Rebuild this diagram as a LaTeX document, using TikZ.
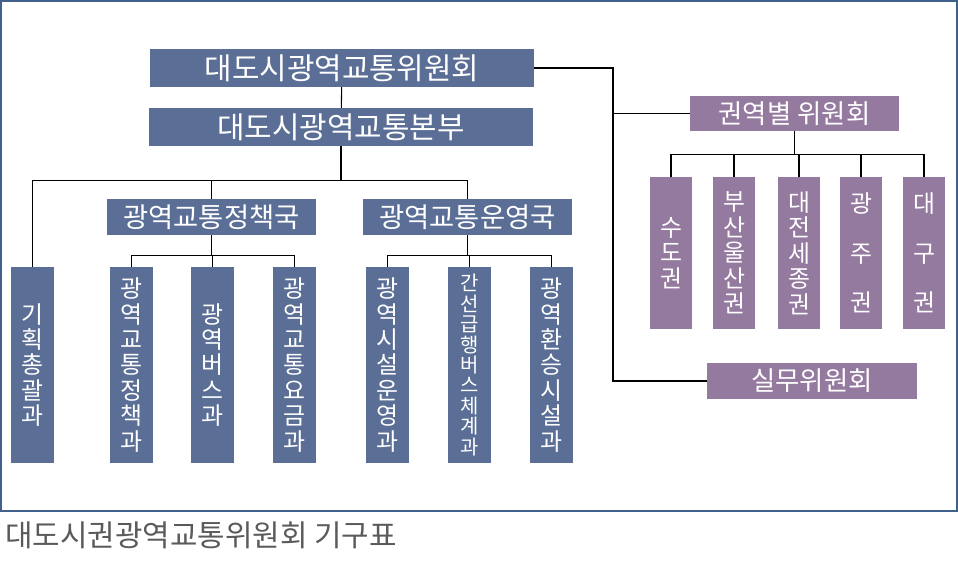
\documentclass[tikz,border=0pt]{standalone}
\usepackage{fontspec}
\setmainfont{Noto Sans CJK KR}
\usepackage{xcolor}
\definecolor{BoxBlue}  {HTML}{5B6F96}
\definecolor{BoxPurple}{HTML}{957AA0}
\definecolor{FrameBlue}{HTML}{41618C}
\definecolor{CapGray}  {HTML}{5A5A5A}
\tikzset{
  hbox/.style={rectangle,fill=#1,text=white,inner sep=0pt,
               minimum width=209bp,minimum height=36bp},
  vbox/.style={rectangle,fill=#1,text=white,inner sep=0pt,align=center,
               minimum width=43bp,font=\fontsize{24}{25.5}\selectfont},
  lnk/.style={line width=1.1bp,color=black},
}

\begin{document}
\begin{tikzpicture}[x=1bp,y=-1bp]

  \useasboundingbox (0,0) rectangle (958,561);
  \draw[FrameBlue,line width=1.6bp] (1,1) rectangle (957,511);

  \node[hbox=BoxBlue,minimum width=384bp,minimum height=38bp,
        font=\fontsize{30}{32}\selectfont] (Cmte) at (342,68) {대도시광역교통위원회};
  \node[hbox=BoxBlue,minimum width=384bp,minimum height=38bp,
        font=\fontsize{30}{32}\selectfont] (HQ) at (341,127) {대도시광역교통본부};

  \node[hbox=BoxBlue,font=\fontsize{27.5}{30}\selectfont] (Pol) at (211.5,217) {광역교통정책국};
  \node[hbox=BoxBlue,font=\fontsize{27.5}{30}\selectfont] (Ops) at (467.5,217) {광역교통운영국};

  \node[vbox=BoxBlue,minimum height=196bp] (Plan)  at (32.5,365)  {기\\획\\총\\괄\\과};
  \node[vbox=BoxBlue,minimum height=196bp] (PolA)  at (131.5,365) {광\\역\\교\\통\\정\\책\\과};
  \node[vbox=BoxBlue,minimum height=196bp] (Bus)   at (212.5,365) {광\\역\\버\\스\\과};
  \node[vbox=BoxBlue,minimum height=196bp] (Fare)  at (294.5,365) {광\\역\\교\\통\\요\\금\\과};
  \node[vbox=BoxBlue,minimum height=196bp] (Fac)   at (387.5,365) {광\\역\\시\\설\\운\\영\\과};
  \node[vbox=BoxBlue,minimum height=196bp,font=\fontsize{20}{20.5}\selectfont]
    (BRT) at (469.5,365) {간\\선\\급\\행\\버\\스\\체\\계\\과};
  \node[vbox=BoxBlue,minimum height=196bp] (Trans) at (551.5,365) {광\\역\\환\\승\\시\\설\\과};

  \node[hbox=BoxPurple,minimum height=35bp,font=\fontsize{26.5}{28}\selectfont]
    (Region) at (794.5,113.5) {권역별 위원회};
  \node[hbox=BoxPurple,minimum width=210bp,font=\fontsize{26.5}{28}\selectfont]
    (Work) at (812,381) {실무위원회};

  \node[vbox=BoxPurple,minimum width=42bp,minimum height=152bp] (Sudo)    at (671,253) {수\\도\\권};
  \node[vbox=BoxPurple,minimum width=42bp,minimum height=152bp] (Busan)   at (734,253) {부\\산\\울\\산\\권};
  \node[vbox=BoxPurple,minimum width=42bp,minimum height=152bp] (Daejeon) at (799,253) {대\\전\\세\\종\\권};
  \node[vbox=BoxPurple,minimum width=42bp,minimum height=152bp] (Gwangju) at (861,253) {광\\[24bp]주\\[24bp]권};
  \node[vbox=BoxPurple,minimum width=42bp,minimum height=152bp] (Daegu)   at (924,253) {대\\[24bp]구\\[24bp]권};

  \coordinate (Spine) at (613,68);

  \draw[lnk] (Cmte) -- (HQ);
  \foreach \n in {Plan,Pol,Ops}
    \draw[lnk] (HQ.south) -- ++(0,34) -| (\n.north);
  \foreach \n in {PolA,Bus,Fare}
    \draw[lnk] (Pol.south) -- ++(0,20) -| (\n.north);
  \foreach \n in {Fac,BRT,Trans}
    \draw[lnk] (Ops.south) -- ++(0,20) -| (\n.north);

  \draw[lnk] (Cmte.east) -- (Spine) |- (Work.west);
  \draw[lnk] (Region.west) -- (Spine |- Region.west);
  \foreach \n in {Sudo,Busan,Daejeon,Gwangju,Daegu}
    \draw[lnk] (Region.south) -- ++(0,23) -| (\n.north);

  \node[anchor=west,inner sep=0pt,text=CapGray,font=\fontsize{30}{32}\selectfont]
    (Cap) at (5,535) {대도시권광역교통위원회 기구표};

\end{tikzpicture}
\end{document}
